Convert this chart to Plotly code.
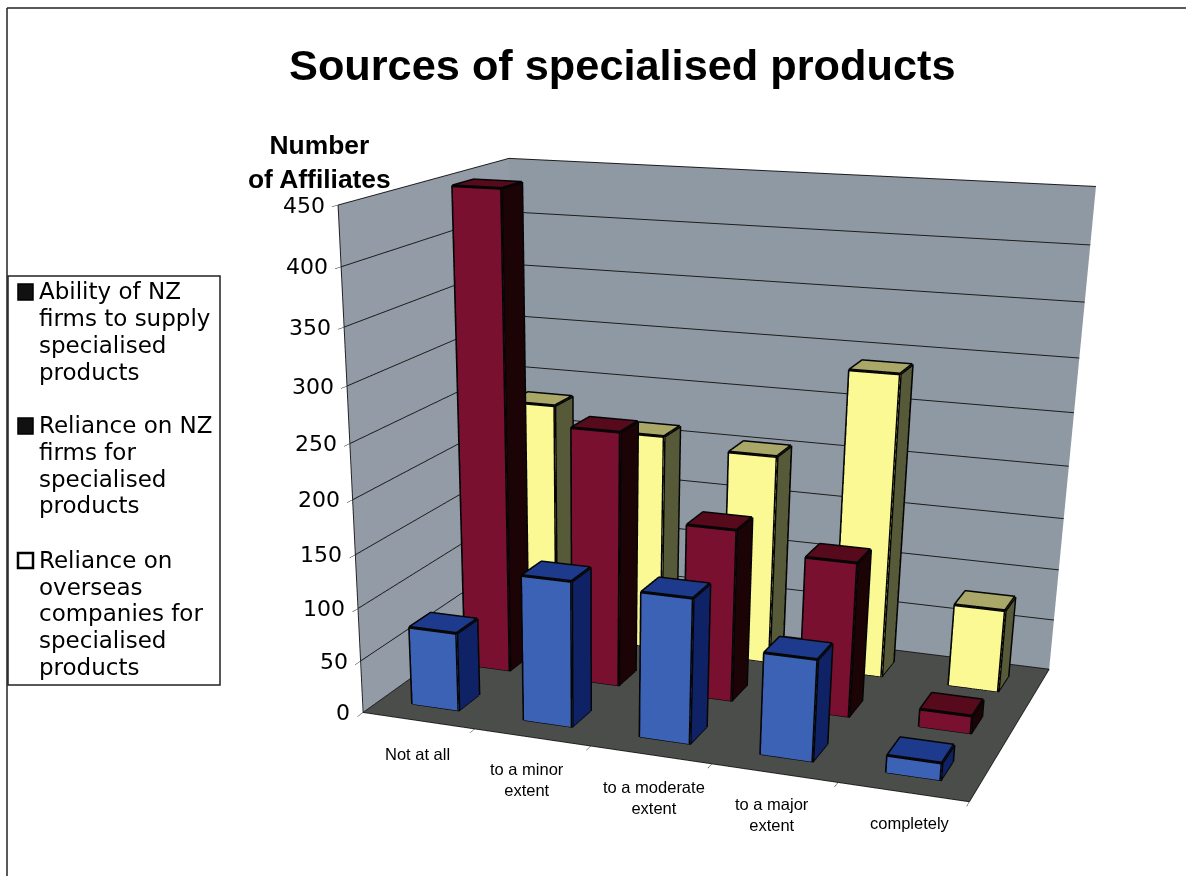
import plotly.graph_objects as go

# Chart content
title = "Sources of specialised products"
categories = ["Not at all", "to a minor<br>extent", "to a moderate<br>extent", "to a major<br>extent", "completely"]
legend_lines = [
    ["Ability of NZ", "firms to supply", "specialised", "products"],
    ["Reliance on NZ", "firms for", "specialised", "products"],
    ["Reliance on", "overseas", "companies for", "specialised", "products"],
]
ability_values = [75, 137, 135, 94, 16]
reliance_nz_values = [449, 243, 164, 146, 17]
reliance_overseas_values = [233, 213, 204, 290, 80]
z_ticks = [0, 50, 100, 150, 200, 250, 300, 350, 400, 450]

# Front, top and side shades per series
blue = ("#3c62b5", "#1e3a8c", "#0e2265")
red = ("#7a1030", "#560a1c", "#1c0306")
yellow = ("#fbf994", "#a9a869", "#565a38")

W, VIEW_H = 1186, 876
# The scene is twice the visible height, which gives the longer lens of the 3-D view;
# only the top half of the page is shown.
PAGE_H = 2 * VIEW_H
BAR_W, BAR_D = 0.42, 0.38


def box_mesh(values, depth_center, shades, name):
    """One mesh3d trace holding a box for every category."""
    xs, ys, zs, i, j, k, colors = [], [], [], [], [], [], []
    for n, v in enumerate(values):
        x0, x1 = n + 0.5 - BAR_W / 2, n + 0.5 + BAR_W / 2
        y0, y1 = depth_center - BAR_D / 2, depth_center + BAR_D / 2
        b = len(xs)
        xs += [x0, x1, x1, x0, x0, x1, x1, x0]
        ys += [y0, y0, y1, y1, y0, y0, y1, y1]
        zs += [0, 0, 0, 0, v, v, v, v]
        quads = [((0, 1, 5, 4), shades[0]), ((4, 5, 6, 7), shades[1]), ((1, 2, 6, 5), shades[2]),
                 ((0, 3, 7, 4), shades[2]), ((3, 2, 6, 7), shades[2]), ((0, 1, 2, 3), shades[2])]
        for (p, q, r, s), c in quads:
            i += [b + p, b + p]
            j += [b + q, b + r]
            k += [b + r, b + s]
            colors += [c, c]
    return go.Mesh3d(x=xs, y=ys, z=zs, i=i, j=j, k=k, facecolor=colors, name=name, flatshading=True,
                     lighting=dict(ambient=1, diffuse=0, specular=0, roughness=1, fresnel=0),
                     hoverinfo="skip", showscale=False)


def box_edges(values, depth_center):
    """Black outline of the visible box edges."""
    xs, ys, zs = [], [], []
    for n, v in enumerate(values):
        x0, x1 = n + 0.5 - BAR_W / 2, n + 0.5 + BAR_W / 2
        y0, y1 = depth_center - BAR_D / 2, depth_center + BAR_D / 2
        loops = [
            [(x0, y0, 0), (x1, y0, 0), (x1, y1, 0)],
            [(x0, y0, 0), (x0, y0, v), (x1, y0, v), (x1, y0, 0)],
            [(x1, y0, v), (x1, y1, v), (x1, y1, 0)],
            [(x0, y0, v), (x0, y1, v), (x1, y1, v)],
        ]
        for loop in loops:
            for p in loop:
                xs.append(p[0]); ys.append(p[1]); zs.append(p[2])
            xs.append(None); ys.append(None); zs.append(None)
    return go.Scatter3d(x=xs, y=ys, z=zs, mode="lines", line=dict(color="#050505", width=6),
                        hoverinfo="skip", showlegend=False)


fig = go.Figure()
for values, depth, shades, name in [
    (reliance_overseas_values, 2.5, yellow, " ".join(legend_lines[2])),
    (reliance_nz_values, 1.5, red, " ".join(legend_lines[1])),
    (ability_values, 0.5, blue, " ".join(legend_lines[0])),
]:
    fig.add_trace(box_mesh(values, depth, shades, name))
    fig.add_trace(box_edges(values, depth))


def px(x, y):
    return x / W, 1 - y / PAGE_H


def rule(x0, y0, x1, y1, color="#222", width=1.5, fill=None):
    a, b = px(x0, y0), px(x1, y1)
    return dict(type="rect" if fill else "line", xref="paper", yref="paper", x0=a[0], y0=a[1], x1=b[0], y1=b[1],
                line=dict(color=color, width=width), fillcolor=fill)


shapes = [
    rule(7, 8, 1186, 8),
    rule(7, 8, 7, 876),
    rule(8, 276, 220, 685, fill="#ffffff"),
    rule(18, 284, 33, 300, color="#000", fill="#111111"),
    rule(18, 418, 33, 434, color="#000", fill="#111111"),
    rule(18, 553, 33, 568, color="#000", width=2.5, fill="#ffffff"),
]

annotations = []


def label(text, x, y, size, family, xanchor="center", align="center"):
    a = px(x, y)
    annotations.append(dict(text=text, x=a[0], y=a[1], xref="paper", yref="paper", showarrow=False,
                            xanchor=xanchor, yanchor="middle", align=align,
                            font=dict(size=size, family=family, color="#000")))


label("<b>" + title + "</b>", 622, 65, 43.3, "Liberation Sans")
label("<b>Number<br>of Affiliates</b>", 319, 162, 26.4, "Liberation Sans")
legend_rows = [[291, 318, 345, 372], [425, 452, 479, 505], [560, 587, 613, 640, 667]]
for lines, rows in zip(legend_lines, legend_rows):
    for text, y in zip(lines, rows):
        label(text, 36.5, y, 23, "DejaVu Sans", xanchor="left", align="left")

axis_common = dict(title=dict(text=""), showspikes=False, zeroline=False, showline=True,
                   linecolor="#222", linewidth=2)

category_notes = [
    dict(x=n + 0.5, y=0, z=0, text=c, showarrow=False, xanchor="center", yanchor="middle",
         xshift=dx, yshift=dy, font=dict(size=16.5, family="Liberation Sans", color="#000"))
    for n, (c, dx, dy) in enumerate(zip(categories, [-1, -5, 3, -2, 7], [-33, -42, -43, -41, -31]))
]
tick_notes = [
    dict(x=0, y=0, z=t, text=str(t), showarrow=False, xanchor="right", yanchor="middle", xshift=-11,
         font=dict(size=22, family="DejaVu Sans", color="#000"))
    for t in z_ticks
]

fig.update_layout(
    width=W, height=PAGE_H, margin=dict(l=0, r=0, t=0, b=0), paper_bgcolor="#ffffff", showlegend=False,
    shapes=shapes, annotations=annotations,
    scene=dict(
        domain=dict(x=[0, 1], y=[0, 1]),
        aspectmode="manual", aspectratio=dict(x=1.2568, y=0.7831, z=1),
        camera=dict(eye=dict(x=1.3127, y=-3.994, z=1.0411), center=dict(x=0.0048, y=-0.7083, z=-0.6219),
                    up=dict(x=0.0042, y=0.0159, z=1), projection=dict(type="perspective")),
        xaxis=dict(range=[0, 5], tickvals=[0, 1, 2, 3, 4, 5], ticktext=[""] * 6, ticks="outside", ticklen=6,
                   tickcolor="#222", showgrid=False, showbackground=True, backgroundcolor="#939ca6", **axis_common),
        yaxis=dict(range=[0, 3], tickvals=[], showticklabels=False, showgrid=False, showbackground=True,
                   backgroundcolor="#8f99a3", **axis_common),
        zaxis=dict(range=[0, 450], tickvals=z_ticks, ticktext=[""] * len(z_ticks), ticks="outside", ticklen=6,
                   tickcolor="#222", showgrid=True, gridcolor="#1c1c1c", gridwidth=2, showbackground=True,
                   backgroundcolor="#4b4d4b", **axis_common),
        annotations=category_notes + tick_notes,
    ),
)

# The page is clipped to the visible window
fig.write_html(
    "out.html",
    post_script="document.documentElement.style.cssText='height:876px;overflow:hidden';"
                "document.body.style.cssText='height:876px;overflow:hidden;margin:0';",
)
